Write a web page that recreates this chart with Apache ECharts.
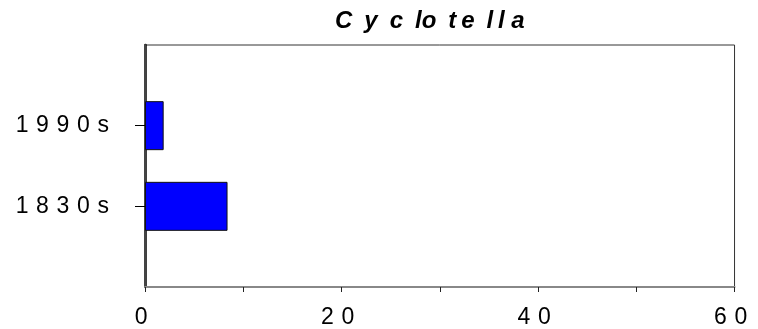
<!DOCTYPE html>
<html>
<head>
<meta charset="utf-8">
<style>
  html, body { margin: 0; padding: 0; background: #fff; }
  #chart { width: 758px; height: 329px; }
</style>
<script src="https://cdn.jsdelivr.net/npm/echarts@6/dist/echarts.min.js"></script>
</head>
<body>
<div id="chart"></div>
<script>
// ---- data (top to bottom) ----
const titleText = 'Cyclotella';
const categories = ['1990s', '1830s'];
const values = [1.9, 8.4];
const xMin = 0, xMax = 60, xStep = 10;
const xLabelValues = [0, 20, 40, 60];

// ---- text spacing helpers (mimic the wide letter spacing of the original) ----
const GAP = '\u2004';       // three-per-em space
const spaced = s => String(s).split('').join(GAP);
// title gaps between consecutive letters (en space, none, thin space, normal space)
const titleGaps = ['\u2002', '\u2002', '\u2002', '', '\u2002', '\u2009', '\u2002', '\u2009', ' '];
const titleDisplay = titleText.split('').map((c, i) => c + (titleGaps[i] || '')).join('');

// padded category axis (empty slot above and below, bottom-to-top order)
const axisCats = [''].concat(categories.slice().reverse(), ['']);
const axisVals = ['-'].concat(values.slice().reverse(), ['-']);

const chart = echarts.init(document.getElementById('chart'), null, { renderer: 'canvas' });
const FONT = '"Liberation Sans", Arial, Helvetica, sans-serif';

chart.setOption({
  animation: false,
  backgroundColor: '#ffffff',
  title: {
    text: titleDisplay,
    left: 335,
    top: 9,
    padding: 0,
    textStyle: {
      fontFamily: FONT,
      fontSize: 24,
      fontWeight: 'bold',
      fontStyle: 'italic',
      color: '#000'
    }
  },
  grid: {
    left: 145,
    right: 15.5,
    top: 45,
    bottom: 41,
    show: true,
    borderColor: '#333',
    borderWidth: 1,
    backgroundColor: 'transparent'
  },
  xAxis: {
    type: 'value',
    min: xMin,
    max: xMax,
    interval: xStep,
    axisLine: { show: true, onZero: false, lineStyle: { color: '#888', width: 2 } },
    axisTick: { show: true, inside: false, length: 5, lineStyle: { color: '#222', width: 1 } },
    splitLine: { show: false },
    axisLabel: {
      margin: 19,
      fontFamily: FONT,
      fontSize: 23,
      color: '#000',
      formatter: v => xLabelValues.indexOf(v) >= 0 ? spaced(v) + GAP : ''
    }
  },
  yAxis: [{
    type: 'category',
    data: axisCats,
    boundaryGap: false,
    axisLine: { show: true, onZero: false, lineStyle: { color: '#000', width: 2.5 } },
    axisTick: {
      show: true,
      inside: false,
      length: 10,
      interval: (idx, val) => val !== '',
      lineStyle: { color: '#000', width: 1 }
    },
    splitLine: { show: false },
    axisLabel: {
      interval: 0,
      margin: 36,
      fontFamily: FONT,
      fontSize: 23,
      color: '#000',
      formatter: v => v === '' ? '' : spaced(v)
    }
  }, {
    type: 'value',
    position: 'right',
    min: 0,
    max: 1,
    axisLine: { show: true, lineStyle: { color: '#444', width: 2 } },
    axisTick: { show: false },
    axisLabel: { show: false },
    splitLine: { show: false }
  }],
  series: [{
    type: 'bar',
    yAxisIndex: 0,
    data: axisVals,
    barWidth: 49,
    itemStyle: {
      color: '#0000FF',
      borderColor: '#111',
      borderWidth: 1
    },
    emphasis: { disabled: true }
  }]
});
</script>
</body>
</html>
